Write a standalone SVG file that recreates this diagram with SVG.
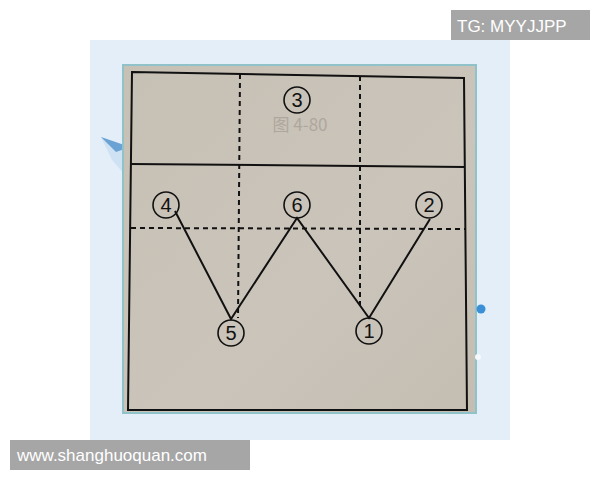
<svg xmlns="http://www.w3.org/2000/svg" width="600" height="480" viewBox="0 0 600 480">
<style>
.court{fill:none;stroke:#111;stroke-width:2}
.dash{fill:none;stroke:#111;stroke-width:2;stroke-dasharray:5 4}
.zig{fill:none;stroke:#111;stroke-width:2}
.pc{fill:none;stroke:#111;stroke-width:1.6}
.pn{font-family:"Liberation Sans",Arial,sans-serif;font-size:20px;fill:#111;text-anchor:middle}
.wm{font-family:"Liberation Sans",Arial,sans-serif;fill:#fff}
</style>
<defs>
<linearGradient id="paper" x1="0" y1="0" x2="1" y2="1">
<stop offset="0" stop-color="#c7c0b5"/>
<stop offset="0.6" stop-color="#cbc4ba"/>
<stop offset="1" stop-color="#c4bdb2"/>
</linearGradient>
</defs>
<rect width="600" height="480" fill="#fff"/>
<rect x="90" y="40" width="420" height="400" fill="#e3eef9"/>
<!-- paper plane decoration -->
<polygon points="101,137 130,147 126,176 112,160" fill="#cfe2f4"/>
<polygon points="101,137 130,147 116,152" fill="#6aa3d3"/>
<!-- photo -->
<rect x="123" y="65" width="353" height="348" fill="url(#paper)" stroke="#8fc3c9" stroke-width="2"/>
<!-- right decorations -->
<circle cx="481" cy="309" r="4.5" fill="#3a8fd6"/>
<circle cx="478" cy="357" r="3" fill="#f5f8fc"/>
<text x="300" y="131" font-family="'Noto Sans CJK SC',sans-serif" font-size="17" fill="#8d877f" opacity="0.45" text-anchor="middle">图 4-80</text>
<!-- court -->
<g id="court">
<polygon class="court" points="132,72 464,78 467,410 128,410"/>
<line class="court" x1="131" y1="164" x2="465" y2="167"/>
</g>
<g id="connectors">
<line class="dash" x1="240" y1="74" x2="238" y2="318"/>
<line class="dash" x1="360" y1="76" x2="360" y2="305"/>
<line class="dash" x1="131" y1="228" x2="465" y2="229"/>
<polyline class="zig" points="175,211 231,319 297,218 369,318 430,219"/>
</g>
<g id="p3"><circle class="pc" cx="297" cy="100" r="13"/><text class="pn" x="297" y="107">3</text></g>
<g id="p4"><circle class="pc" cx="166" cy="205" r="13"/><text class="pn" x="166" y="212">4</text></g>
<g id="p6"><circle class="pc" cx="297" cy="205" r="13"/><text class="pn" x="297" y="212">6</text></g>
<g id="p2"><circle class="pc" cx="429" cy="205" r="13"/><text class="pn" x="429" y="212">2</text></g>
<g id="p5"><circle class="pc" cx="231" cy="333" r="13"/><text class="pn" x="231" y="340">5</text></g>
<g id="p1"><circle class="pc" cx="369" cy="331" r="13"/><text class="pn" x="369" y="338">1</text></g>
<!-- watermarks -->
<rect x="451" y="10" width="139" height="30" fill="#a6a6a6"/>
<text class="wm" x="457" y="32" font-size="17">TG: MYYJJPP</text>
<rect x="10" y="440" width="240" height="30" fill="#a6a6a6"/>
<text class="wm" x="17" y="461" font-size="17">www.shanghuoquan.com</text>
</svg>
